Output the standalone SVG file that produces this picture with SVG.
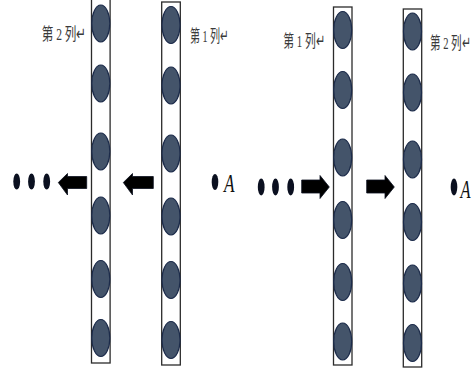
<svg xmlns="http://www.w3.org/2000/svg" width="475" height="372" viewBox="0 0 475 372">
  <style>
    .col { fill: #ffffff; stroke: #2b2b2b; stroke-width: 1.3; }
    .ball { fill: #44546a; stroke: #1c2b4a; stroke-width: 1.2; }
    .dot { fill: #0b1020; }
    .arrow { fill: #000000; stroke: #0b1020; stroke-width: 0.8; stroke-linejoin: miter; }
    .lbl { font-family: "Liberation Serif", "Noto Sans CJK SC", serif; font-size: 11px; fill: #3a3a3a; }
    .pt { font-family: "Liberation Serif", serif; font-style: italic; font-size: 25px; fill: #111111; }
  </style>

  <!-- left panel: second column -->
  <g id="left-col2">
    <rect class="col" x="91.5" y="-2" width="18.6" height="365"/>
    <ellipse class="ball" cx="100.8" cy="23.5" rx="9" ry="18.5"/>
    <ellipse class="ball" cx="100.8" cy="83.5" rx="9" ry="18.5"/>
    <ellipse class="ball" cx="100.8" cy="151.5" rx="9" ry="18.5"/>
    <ellipse class="ball" cx="100.8" cy="215.5" rx="9" ry="18.5"/>
    <ellipse class="ball" cx="100.8" cy="279" rx="9" ry="18.5"/>
    <ellipse class="ball" cx="100.8" cy="338" rx="9" ry="18.5"/>
    <text class="lbl" transform="translate(41.7,40) scale(1,1.6)" textLength="45" lengthAdjust="spacingAndGlyphs">第 2 列↵</text>
  </g>

  <!-- left panel: first column -->
  <g id="left-col1">
    <rect class="col" x="161.7" y="2" width="18.6" height="363"/>
    <ellipse class="ball" cx="171" cy="25" rx="9" ry="18.5"/>
    <ellipse class="ball" cx="171" cy="85.5" rx="9" ry="18.5"/>
    <ellipse class="ball" cx="171" cy="153.5" rx="9" ry="18.5"/>
    <ellipse class="ball" cx="171" cy="216.5" rx="9" ry="18.5"/>
    <ellipse class="ball" cx="171" cy="280" rx="9" ry="18.5"/>
    <ellipse class="ball" cx="171" cy="340" rx="9" ry="18.5"/>
    <text class="lbl" transform="translate(190,41.5) scale(1,1.6)" textLength="39" lengthAdjust="spacingAndGlyphs">第 1 列↵</text>
  </g>

  <!-- left panel: dots and point A -->
  <g id="left-dots">
    <ellipse class="dot" cx="16.7" cy="181.5" rx="3.4" ry="8"/>
    <ellipse class="dot" cx="31.5" cy="181.5" rx="3.4" ry="8"/>
    <ellipse class="dot" cx="46.7" cy="181.5" rx="3.4" ry="8"/>
  </g>
  <g id="left-A">
    <ellipse class="dot" cx="215" cy="182" rx="3.3" ry="8"/>
    <text class="pt" x="224" y="191.5" textLength="10.5" lengthAdjust="spacingAndGlyphs">A</text>
  </g>

  <!-- right panel: first column -->
  <g id="right-col1">
    <rect class="col" x="333.5" y="7" width="18.5" height="358"/>
    <ellipse class="ball" cx="342.7" cy="30" rx="9" ry="18.5"/>
    <ellipse class="ball" cx="342.7" cy="90" rx="9" ry="18.5"/>
    <ellipse class="ball" cx="342.7" cy="157.5" rx="9" ry="18.5"/>
    <ellipse class="ball" cx="342.7" cy="220" rx="9" ry="18.5"/>
    <ellipse class="ball" cx="342.7" cy="282" rx="9" ry="18.5"/>
    <ellipse class="ball" cx="342.7" cy="341.5" rx="9" ry="18.5"/>
    <text class="lbl" transform="translate(283.3,46.5) scale(1,1.6)" textLength="42" lengthAdjust="spacingAndGlyphs">第 1 列↵</text>
  </g>

  <!-- right panel: second column -->
  <g id="right-col2">
    <rect class="col" x="403.3" y="9" width="18.4" height="358"/>
    <ellipse class="ball" cx="412.5" cy="31.5" rx="9" ry="18.5"/>
    <ellipse class="ball" cx="412.5" cy="92.5" rx="9" ry="18.5"/>
    <ellipse class="ball" cx="412.5" cy="159.5" rx="9" ry="18.5"/>
    <ellipse class="ball" cx="412.5" cy="222" rx="9" ry="18.5"/>
    <ellipse class="ball" cx="412.5" cy="283.5" rx="9" ry="18.5"/>
    <ellipse class="ball" cx="412.5" cy="343" rx="9" ry="18.5"/>
    <text class="lbl" transform="translate(430,48.5) scale(1,1.6)" textLength="41" lengthAdjust="spacingAndGlyphs">第 2 列↵</text>
  </g>

  <!-- right panel: dots and point A -->
  <g id="right-dots">
    <ellipse class="dot" cx="261.2" cy="187" rx="3.4" ry="8.5"/>
    <ellipse class="dot" cx="275.5" cy="187" rx="3.4" ry="8.5"/>
    <ellipse class="dot" cx="290.7" cy="187" rx="3.4" ry="8.5"/>
  </g>
  <g id="right-A">
    <ellipse class="dot" cx="454" cy="187" rx="3.3" ry="8.5"/>
    <text class="pt" x="460.5" y="197.5" textLength="10" lengthAdjust="spacingAndGlyphs">A</text>
  </g>

  <!-- block arrows -->
  <g id="connectors">
    <path class="arrow" d="M58.3,182.5 L67.5,173.5 L67.5,176.5 L86.7,176.5 L86.7,188.5 L67.5,188.5 L67.5,195 Z"/>
    <path class="arrow" d="M123.3,182.5 L132.5,173.5 L132.5,176.5 L153.3,176.5 L153.3,188.5 L132.5,188.5 L132.5,195 Z"/>
    <path class="arrow" d="M301.7,180 L320,180 L320,175.5 L329.3,187 L320,198.5 L320,193 L301.7,193 Z"/>
    <path class="arrow" d="M366.7,180 L385,180 L385,175.5 L394.3,187 L385,198.5 L385,193 L366.7,193 Z"/>
  </g>
</svg>
